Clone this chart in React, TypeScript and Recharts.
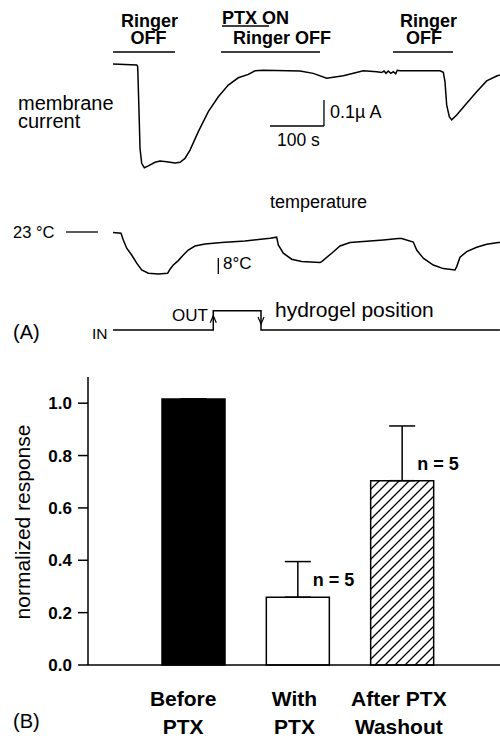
import React from "react"
import {
    Bar,
    BarChart,
    Cell,
    ErrorBar,
    LabelList,
    Line,
    LineChart,
    ReferenceLine,
    XAxis,
    YAxis,
} from "recharts"

const FONT = "'Liberation Sans', Arial, Helvetica, sans-serif"

/* ---------------- panel A data (time in s) ---------------- */

// membrane current, µA relative to the resting level
const CURRENT_T = [
    0, 43.9, 45.7, 46.9, 48.7, 50.0, 53.1, 58.0, 65.4, 77.8, 87.0, 99.4, 114.8, 124.1, 133.3,
    142.6, 158.0, 176.5, 195.0, 213.5, 232.0, 250.6, 263.0, 278.3, 346.3, 370.9, 395.7, 426.5,
    463.5, 488.3, 497.6, 501.9, 505.6, 509.8, 514.3, 519.1, 523.5, 526.5, 531.5, 605.6, 611.7,
    614.8, 618.0, 622.8, 627.2, 636.5, 655.0, 673.5, 692.0, 710.6, 716.7,
]
const CURRENT_UA = [
    0, -0.004, -0.01, -0.093, -0.222, -0.324, -0.382, -0.399, -0.392, -0.378, -0.373, -0.376,
    -0.381, -0.378, -0.363, -0.331, -0.26, -0.183, -0.126, -0.081, -0.053, -0.04, -0.026, -0.024,
    -0.027, -0.036, -0.055, -0.045, -0.026, -0.03, -0.033, -0.027, -0.036, -0.027, -0.036, -0.03,
    -0.038, -0.024, -0.026, -0.026, -0.032, -0.068, -0.158, -0.203, -0.215, -0.196, -0.151,
    -0.107, -0.065, -0.046, -0.042,
]

// bath temperature, °C
const TEMP_T = [
    0, 14.8, 19.1, 25.4, 34.6, 43.9, 53.1, 65.4, 83.9, 101.3, 105.6, 111.7, 120.9, 130.2, 139.4,
    151.9, 170.4, 201.3, 244.4, 290.7, 303.1, 306.1, 315.4, 330.9, 349.4, 383.3, 386.5, 405.0,
    420.4, 438.9, 469.8, 500.6, 528.3, 534.6, 556.1, 562.4, 574.6, 593.1, 611.7, 633.3, 636.5,
    642.6, 655.0, 673.5, 692.0, 713.5, 716.7,
]
const TEMP_C = [
    22.8, 22.4, 19.0, 14.9, 11.5, 7.4, 4.0, 2.4, 2.0, 2.4, 4.4, 6.5, 8.7, 11.5, 14.0, 16.0, 17.0,
    17.7, 18.5, 19.9, 20.4, 16.5, 12.4, 9.4, 8.2, 7.7, 8.2, 12.4, 16.0, 17.7, 18.4, 19.0, 19.7,
    19.7, 18.0, 14.0, 9.9, 6.5, 4.7, 4.0, 5.7, 10.4, 13.2, 15.4, 16.9, 17.7, 17.8,
]

// hydrogel position: 0 = IN, 1 = OUT
const GEL_T = [0, 185.7, 274.1, 716.7]
const GEL_POS = [0, 1, 0, 0]
const GEL_ARROW = ["", "up", "down", ""]

// solution-change bars above the current trace
const RINGER_OFF: [number, number][] = [
    [0, 114.8],
    [200, 383.3],
    [518.5, 629.6],
]

/* ---------------- panel B data ---------------- */

const CATEGORIES = [
    ["Before", "PTX"],
    ["With", "PTX"],
    ["After PTX", "Washout"],
]
const MEANS = [1.016, 0.259, 0.704]
const SEM_UP = [0, 0.136, 0.209]
const N_LABELS = ["", "n = 5", "n = 5"]
const Y_TICKS = [0, 0.2, 0.4, 0.6, 0.8, 1.0]

/* ---------------- layout ---------------- */

const W = 500
const PX_PER_S = 0.54
const T_ZERO_X = 113
const T_DOMAIN: [number, number] = [-T_ZERO_X / PX_PER_S, (W - T_ZERO_X) / PX_PER_S]

const PX_PER_UA = 260
const I_DOMAIN: [number, number] = [-0.44, 0.05]
const I_ZERO_Y = 64

const PX_PER_C = 2
const C_DOMAIN: [number, number] = [-1, 27]
const C_23_Y = 232

const PX_PER_POS = 19.3
const POS_DOMAIN: [number, number] = [-0.5, 1.5]
const POS_ZERO_Y = 330

const LINE = { stroke: "#000", strokeWidth: 1.5 }

const currentData = CURRENT_T.map((t, i) => ({ t, v: CURRENT_UA[i] }))
const tempData = TEMP_T.map((t, i) => ({ t, v: TEMP_C[i] }))
const gelData = GEL_T.map((t, i) => ({ t, v: GEL_POS[i] }))
const barData = CATEGORIES.map((c, i) => ({
    name: c.join(" "),
    mean: MEANS[i],
    err: [0, SEM_UP[i]],
    n: N_LABELS[i],
}))

function Trace({
    data,
    top,
    height,
    yDomain,
    children,
    dot,
    type = "linear",
}: {
    data: { t: number; v: number }[]
    top: number
    height: number
    yDomain: [number, number]
    children?: React.ReactNode
    dot?: any
    type?: any
}) {
    return (
        <div style={{ position: "absolute", left: 0, top }}>
            <LineChart width={W} height={height} data={data} margin={{ top: 0, right: 0, bottom: 0, left: 0 }}>
                <XAxis type="number" dataKey="t" domain={T_DOMAIN} hide allowDataOverflow />
                <YAxis type="number" domain={yDomain} hide width={0} allowDataOverflow />
                {children}
                <Line
                    dataKey="v"
                    type={type}
                    {...LINE}
                    dot={dot ?? false}
                    activeDot={false}
                    isAnimationActive={false}
                />
            </LineChart>
        </div>
    )
}

function GelArrow(props: any) {
    const { cx, cy, index } = props
    const kind = GEL_ARROW[index]
    if (kind === "up")
        return (
            <path key={index} d={`M${cx - 3},${cy + 12} L${cx},${cy + 5} L${cx + 3},${cy + 12}`} fill="none" stroke="#000" strokeWidth={1.2} />
        )
    if (kind === "down")
        return (
            <path key={index} d={`M${cx - 3},${cy - 13} L${cx},${cy - 6} L${cx + 3},${cy - 13}`} fill="none" stroke="#000" strokeWidth={1.2} />
        )
    return <g key={index} />
}

const TICK_SHIFT = [-10, -3, -3]

function CategoryTick(props: any) {
    const { x, y, index } = props
    const lines = CATEGORIES[index] ?? []
    return (
        <g>
            {lines.map((l, k) => (
                <text
                    key={k}
                    x={x + TICK_SHIFT[index]}
                    y={y + 41 + k * 28}
                    textAnchor="middle"
                    fontFamily={FONT}
                    fontWeight={700}
                    fontSize={21}
                    fill="#000"
                >
                    {l}
                </text>
            ))}
        </g>
    )
}

function NLabel(props: any) {
    const { x, y, width, value } = props
    if (!value) return null
    return (
        <text x={x + width / 2 + 15} y={y - 11} fontFamily={FONT} fontWeight={700} fontSize={18} fill="#000">
            {value}
        </text>
    )
}

function Txt({ x, y, size, bold, children, anchor = "start" }: any) {
    return (
        <text x={x} y={y} fontSize={size} fontWeight={bold ? 700 : 400} textAnchor={anchor} fontFamily={FONT} fill="#000">
            {children}
        </text>
    )
}

export default function App() {
    const iTop = I_ZERO_Y - I_DOMAIN[1] * PX_PER_UA
    const iHeight = (I_DOMAIN[1] - I_DOMAIN[0]) * PX_PER_UA
    const cTop = C_23_Y - (C_DOMAIN[1] - 23) * PX_PER_C
    const cHeight = (C_DOMAIN[1] - C_DOMAIN[0]) * PX_PER_C
    const pTop = POS_ZERO_Y - POS_DOMAIN[1] * PX_PER_POS
    const pHeight = (POS_DOMAIN[1] - POS_DOMAIN[0]) * PX_PER_POS
    const stimY = (I_ZERO_Y - 52) / PX_PER_UA
    const scaleT = 290.7
    const scaleI = -0.2385

    return (
        <div style={{ position: "absolute", left: 0, top: 0, width: W, height: 739, background: "#fff", fontFamily: FONT }}>
            <Trace data={currentData} top={iTop} height={iHeight} yDomain={I_DOMAIN}>
                {RINGER_OFF.map(([a, b], i) => (
                    <ReferenceLine key={i} segment={[{ x: a, y: stimY }, { x: b, y: stimY }]} stroke="#000" strokeWidth={1.3} ifOverflow="visible" />
                ))}
                <ReferenceLine segment={[{ x: scaleT, y: scaleI }, { x: scaleT + 100, y: scaleI }]} stroke="#000" strokeWidth={1.3} ifOverflow="visible" />
                <ReferenceLine segment={[{ x: scaleT + 100, y: scaleI }, { x: scaleT + 100, y: scaleI + 0.1 }]} stroke="#000" strokeWidth={1.3} ifOverflow="visible" />
            </Trace>

            <Trace data={tempData} top={cTop} height={cHeight} yDomain={C_DOMAIN}>
                <ReferenceLine segment={[{ x: -87, y: 23 }, { x: -27.8, y: 23 }]} stroke="#000" strokeWidth={1.3} ifOverflow="visible" />
                <ReferenceLine segment={[{ x: 195, y: 2 }, { x: 195, y: 10 }]} stroke="#000" strokeWidth={1.3} ifOverflow="visible" />
            </Trace>

            <Trace data={gelData} top={pTop} height={pHeight} yDomain={POS_DOMAIN} type="stepAfter" dot={GelArrow} />

            <div style={{ position: "absolute", left: 0, top: 360 }}>
                <BarChart width={W} height={379} data={barData} margin={{ top: 17, right: 0, bottom: 0, left: 0 }}>
                    <defs>
                        <pattern id="hatch" patternUnits="userSpaceOnUse" width={10} height={10}>
                            <rect width={10} height={10} fill="#fff" />
                            <path d="M0,10 L10,0 M-2.5,2.5 L2.5,-2.5 M7.5,12.5 L12.5,7.5" stroke="#000" strokeWidth={1.3} />
                        </pattern>
                    </defs>
                    <XAxis
                        dataKey="name"
                        interval={0}
                        tickLine={false}
                        tickSize={0}
                        tickMargin={0}
                        height={74}
                        padding={{ left: 53, right: 46 }}
                        axisLine={{ stroke: "#000", strokeWidth: 1.5 }}
                        tick={CategoryTick}
                    />
                    <YAxis
                        domain={[0, 1.1]}
                        ticks={Y_TICKS}
                        tickFormatter={(v: number) => v.toFixed(1)}
                        width={88}
                        tickSize={10}
                        tickMargin={6}
                        axisLine={{ stroke: "#000", strokeWidth: 1.5 }}
                        tickLine={{ stroke: "#000", strokeWidth: 1.5 }}
                        tick={{ fill: "#000", fontSize: 17, fontWeight: 700, fontFamily: FONT }}
                    />
                    <Bar dataKey="mean" barSize={63} isAnimationActive={false} stroke="#000" strokeWidth={1.5}>
                        {barData.map((_, i) => (
                            <Cell key={i} fill={i === 0 ? "#000" : i === 1 ? "#fff" : "url(#hatch)"} />
                        ))}
                        <ErrorBar dataKey="err" width={13} stroke="#000" strokeWidth={1.5} direction="y" />
                        <LabelList dataKey="n" content={NLabel} />
                    </Bar>
                </BarChart>
            </div>

            <svg width={W} height={739} style={{ position: "absolute", left: 0, top: 0, pointerEvents: "none" }}>
                <Txt x={149.5} y={27} size={18} bold anchor="middle">Ringer</Txt>
                <Txt x={148.5} y={44} size={18} bold anchor="middle">OFF</Txt>
                <Txt x={222} y={23.5} size={18} bold>PTX ON</Txt>
                <line x1={222} x2={269} y1={26} y2={26} stroke="#000" strokeWidth={1.3} />
                <Txt x={233} y={44} size={18} bold>Ringer OFF</Txt>
                <Txt x={428.5} y={27} size={18} bold anchor="middle">Ringer</Txt>
                <Txt x={424} y={44} size={18} bold anchor="middle">OFF</Txt>

                <Txt x={18} y={110} size={20}>membrane</Txt>
                <Txt x={18} y={128} size={20}>current</Txt>
                <Txt x={330} y={118} size={18}>0.1µ A</Txt>
                <Txt x={277} y={146} size={17.5}>100 s</Txt>

                <Txt x={270} y={208} size={18}>temperature</Txt>
                <Txt x={13} y={237.5} size={16.5}>23 °C</Txt>
                <Txt x={223} y={269} size={17}>8°C</Txt>

                <Txt x={172} y={321} size={17}>OUT</Txt>
                <Txt x={92} y={339} size={15.5}>IN</Txt>
                <Txt x={275} y={317} size={21}>hydrogel position</Txt>
                <Txt x={13} y={339} size={20}>(A)</Txt>

                <text
                    x={30}
                    y={522}
                    transform="rotate(-90 30 522)"
                    textAnchor="middle"
                    fontFamily={FONT}
                    fontSize={21}
                    fill="#000"
                >
                    normalized response
                </text>
                <Txt x={13} y={728} size={20}>(B)</Txt>
            </svg>
        </div>
    )
}
